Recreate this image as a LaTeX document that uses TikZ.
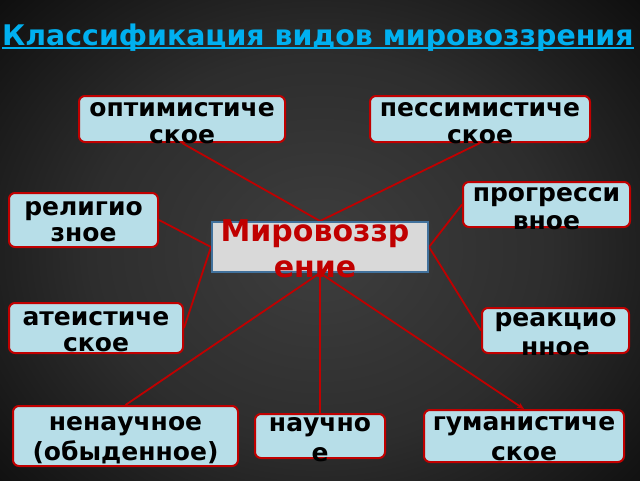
\documentclass[tikz,border=0pt]{standalone}
\usepackage{fontspec}
\setmainfont{DejaVu Sans}
\usetikzlibrary{arrows.meta}
\definecolor{boxfill}{RGB}{183,222,232}
\definecolor{boxred}{RGB}{192,0,0}
\definecolor{cenfill}{RGB}{217,217,217}
\definecolor{cenedge}{RGB}{65,113,156}
\definecolor{titleblue}{RGB}{0,176,240}
\definecolor{bgmid}{RGB}{62,62,62}
\definecolor{bgin}{RGB}{45,45,45}
\pgfdeclarelayer{bgl}
\pgfdeclarelayer{lines}
\pgfsetlayers{bgl,lines,main}
\pgfdeclareradialshading{spot}{\pgfpoint{0bp}{0bp}}{color(0bp)=(bgmid); color(18bp)=(bgin); color(42bp)=(black); color(60bp)=(black)}
\tikzset{
  kind/.style={draw=boxred, line width=2pt, fill=boxfill, rounded corners=6pt, inner sep=0pt},
  cenbox/.style={draw=cenedge, line width=2pt, fill=cenfill, inner sep=0pt},
  lbl/.style={font=\bfseries\fontsize{25}{#1}\selectfont, align=center, inner sep=0pt, anchor=north, text=black},
  lbl/.default=27,
  cenlbl/.style={font=\bfseries\fontsize{30}{36}\selectfont, align=center, inner sep=0pt, anchor=north, text=boxred},
  link/.style={draw=boxred, line width=1.8pt},
}
\begin{document}
\begin{tikzpicture}[x=1pt,y=-1pt]
\useasboundingbox (0,0) rectangle (640,480);
\begin{pgfonlayer}{bgl}
\shade[shading=spot] (0,-20) rectangle (640,520);
\end{pgfonlayer}
% title
\node[anchor=base west, text=titleblue, font=\bfseries\fontsize{28.4}{34}\selectfont, inner sep=0pt] (title) at (2,45) {Классификация видов мировоззрения};
\draw[titleblue, line width=1.5pt] ([yshift=-3pt]title.base west) -- ([yshift=-3pt]title.base east);
% boxes
\node[cenbox, minimum width=216pt, minimum height=50pt] (cen) at (320,247) {};
\node[kind, minimum width=206pt, minimum height=46pt] (opt) at (182,119) {};
\node[kind, minimum width=220pt, minimum height=46pt] (pess) at (480,119) {};
\node[kind, minimum width=149pt, minimum height=54pt] (rel) at (83.5,220) {};
\node[kind, minimum width=167pt, minimum height=45pt] (prog) at (546.5,204.5) {};
\node[kind, minimum width=174pt, minimum height=50pt] (ath) at (96,328) {};
\node[kind, minimum width=147pt, minimum height=45pt] (react) at (555.5,330.5) {};
\node[kind, minimum width=225pt, minimum height=60pt] (nen) at (125.5,436) {};
\node[kind, minimum width=130pt, minimum height=44pt] (nauch) at (320,436) {};
\node[kind, minimum width=200pt, minimum height=52pt] (gum) at (524,436) {};
% labels
\node[cenlbl] (tcen) at ([xshift=-5pt,yshift=2pt]cen.north) {Мировоззр\\ение};
\node[lbl] (topt) at ([yshift=-7pt]opt.north) {оптимистиче\\ское};
\node[lbl] (tpess) at ([yshift=-7pt]pess.north) {пессимистиче\\ское};
\node[lbl=26] (trel) at ([yshift=-9pt]rel.north) {религио\\зное};
\node[lbl=28] (tprog) at ([yshift=-6pt]prog.north) {прогресси\\вное};
\node[lbl=26] (tath) at ([yshift=-9pt]ath.north) {атеистиче\\ское};
\node[lbl=29] (treact) at ([yshift=-5pt]react.north) {реакцио\\нное};
\node[lbl=30] (tnen) at ([yshift=-11pt]nen.north) {ненаучное\\(обыденное)};
\node[lbl=30] (tnauch) at ([yshift=-4pt]nauch.north) {научно\\е};
\node[lbl=30] (tgum) at ([yshift=-7pt]gum.north) {гуманистиче\\ское};
% connectors
\begin{pgfonlayer}{lines}
\draw[link] (opt.south) -- (cen.north);
\draw[link] (pess.south) -- (cen.north);
\draw[link] (rel.east) -- (cen.west);
\draw[link] (ath.east) -- (cen.west);
\draw[link] (prog.west) -- (cen.east);
\draw[link] (react.west) -- (cen.east);
\draw[link] (cen.south) -- (nen.north);
\draw[link] (cen.south) -- (nauch.north);
\draw[link, -{Stealth[length=7pt,width=6pt]}] (cen.south) -- (gum.north);
\end{pgfonlayer}
\end{tikzpicture}
\end{document}
